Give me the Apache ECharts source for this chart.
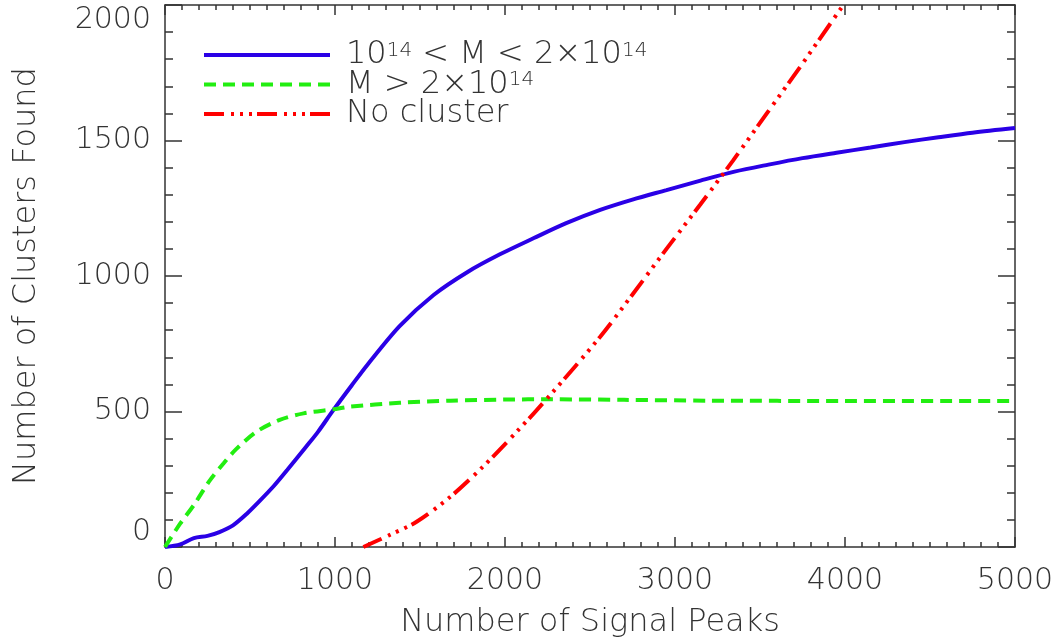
<!DOCTYPE html>
<html>
<head>
<meta charset="utf-8">
<script src="https://cdn.jsdelivr.net/npm/echarts@6/dist/echarts.min.js"></script>
<style>
  html, body { margin: 0; padding: 0; background: #fff; }
  #chart { width: 1060px; height: 638px; }
</style>
</head>
<body>
<div id="chart"></div>
<script>
// 10^14 < M < 2x10^14
var peaksMid = [0, 90, 170, 250, 320, 400, 480, 560, 640, 720, 830, 900, 990, 1100, 1190, 1380, 1580, 1780, 1970, 2170, 2360, 2560, 2750, 2950, 3150, 3350, 3550, 3750, 3950, 4150, 4350, 4550, 4750, 5000];
var foundMid = [0, 10, 33, 41, 55, 80, 122, 172, 225, 285, 370, 425, 505, 598, 672, 815, 930, 1015, 1080, 1140, 1195, 1244, 1282, 1317, 1352, 1385, 1411, 1435, 1455, 1474, 1494, 1512, 1529, 1546];

// M > 2x10^14
var peaksHigh = [0, 90, 170, 265, 345, 420, 540, 675, 815, 990, 1090, 1380, 1680, 2000, 2270, 2700, 3200, 4000, 5000];
var foundHigh = [0, 87, 155, 247, 309, 362, 426, 469, 493, 508, 518, 532, 540, 544, 545, 543, 540, 539, 539];

// no cluster
var peaksNone = [1167, 1320, 1480, 1680, 1870, 2070, 2265, 2560, 2750, 2950, 3150, 3340, 3540, 3740, 3990];
var foundNone = [0, 44, 93, 186, 296, 426, 560, 776, 932, 1100, 1265, 1425, 1600, 1775, 2000];

var names = ['10^14 < M < 2x10^14', 'M > 2x10^14', 'No cluster'];
var xTicks = { min: 0, max: 5000, interval: 1000 };
var yTicks = { min: 0, max: 2000, interval: 500 };

function pairs(xs, ys) {
    return xs.map(function (x, i) { return [x, ys[i]]; });
}

var font = '"DejaVu Sans ExtraLight", "DejaVu Sans"';
var axisColor = '#333';

function plain(v) { return String(v); }

function xAxis(pos, labels) {
    return {
        type: 'value',
        position: pos,
        min: xTicks.min, max: xTicks.max, interval: xTicks.interval,
        axisLine: { show: true, onZero: false, lineStyle: { color: axisColor, width: 1.5 } },
        axisTick: { show: true, inside: true, length: 10, lineStyle: { color: axisColor, width: 1.5 } },
        minorTick: { show: true, splitNumber: 10, length: 5, lineStyle: { color: axisColor, width: 1.5 } },
        splitLine: { show: false },
        axisLabel: { show: labels, margin: 19, fontSize: 30, color: axisColor, fontFamily: font, fontWeight: 200, formatter: plain },
        name: labels ? 'Number of Signal Peaks' : '',
        nameLocation: 'middle',
        nameGap: 60,
        nameTextStyle: { fontSize: 32, color: axisColor, fontFamily: font, fontWeight: 200 }
    };
}

function yAxis(pos, labels) {
    return {
        type: 'value',
        position: pos,
        min: yTicks.min, max: yTicks.max, interval: yTicks.interval,
        axisLine: { show: true, onZero: false, lineStyle: { color: axisColor, width: 1.5 } },
        axisTick: { show: true, inside: true, length: 17, lineStyle: { color: axisColor, width: 1.5 } },
        minorTick: { show: true, splitNumber: 5, length: 8, lineStyle: { color: axisColor, width: 1.5 } },
        splitLine: { show: false },
        axisLabel: {
            show: labels, margin: 14, fontSize: 30, color: axisColor, fontFamily: font, fontWeight: 200, formatter: plain,
            verticalAlignMaxLabel: 'top', verticalAlignMinLabel: 'bottom'
        },
        name: labels ? 'Number of Clusters Found' : '',
        nameLocation: 'middle',
        nameGap: 122,
        nameTextStyle: { fontSize: 32, color: axisColor, fontFamily: font, fontWeight: 200 }
    };
}

var myChart = echarts.init(document.getElementById('chart'));

myChart.setOption({
    animation: false,
    grid: { left: 165, right: 45, top: 5, bottom: 91, containLabel: false, outerBoundsMode: 'none' },
    legend: {
        orient: 'vertical',
        left: 197,
        top: 34,
        itemWidth: 126,
        itemHeight: 29,
        itemGap: -2.5,
        data: names,
        itemStyle: { opacity: 0 },
        lineStyle: { width: 4 },
        formatter: function (name) {
            if (name === names[0]) return '{t|10}{s|14}{t| < M < 2\u00d710}{s|14}';
            if (name === names[1]) return '{t|M > 2\u00d710}{s|14}';
            return '{t|No cluster}';
        },
        textStyle: {
            padding: [0, 0, 0, 11],
            color: axisColor,
            fontFamily: font,
            fontWeight: 200,
            fontSize: 32,
            rich: {
                t: { fontSize: 32, lineHeight: 29, fontFamily: font, fontWeight: 200, color: axisColor },
                s: { fontSize: 20, lineHeight: 29, verticalAlign: 'top', fontFamily: font, fontWeight: 200, color: axisColor }
            }
        }
    },
    xAxis: [xAxis('bottom', true), xAxis('top', false)],
    yAxis: [yAxis('left', true), yAxis('right', false)],
    series: [
        {
            name: names[0],
            type: 'line',
            data: pairs(peaksMid, foundMid),
            smooth: 0.3,
            symbol: 'none',
            lineStyle: { color: '#2a00e6', width: 4 },
            itemStyle: { color: '#2a00e6' }
        },
        {
            name: names[1],
            type: 'line',
            data: pairs(peaksHigh, foundHigh),
            smooth: 0.3,
            symbol: 'none',
            lineStyle: { color: '#22ee11', width: 4, type: [12, 7], cap: 'butt' },
            itemStyle: { color: '#22ee11' }
        },
        {
            name: names[2],
            type: 'line',
            data: pairs(peaksNone, foundNone),
            smooth: 0.3,
            symbol: 'none',
            lineStyle: { color: '#ff0000', width: 4, type: [20, 7, 3, 6, 3, 6, 3, 5], cap: 'butt' },
            itemStyle: { color: '#ff0000' }
        }
    ]
});
</script>
</body>
</html>
